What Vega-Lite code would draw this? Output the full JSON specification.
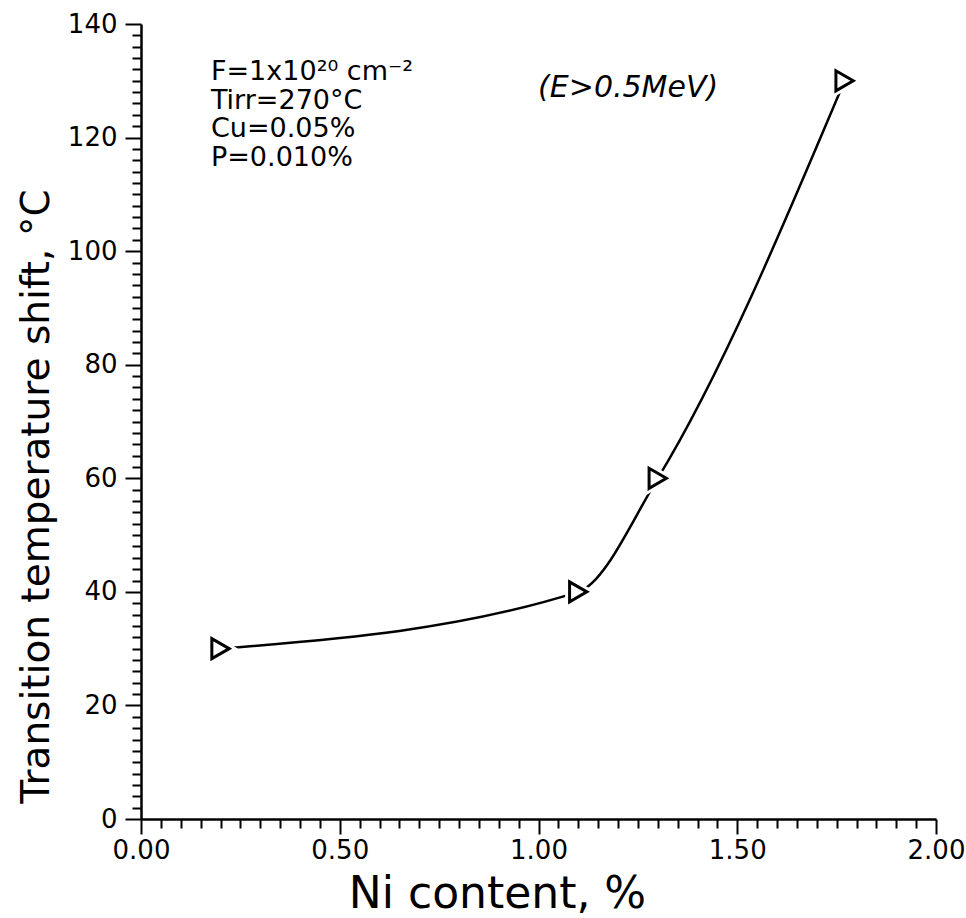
{
  "$schema": "https://vega.github.io/schema/vega-lite/v6.json",
  "width": 795,
  "height": 795,
  "autosize": {"type": "none"},
  "padding": {"left": 141, "top": 24, "right": 30, "bottom": 99},
  "background": "white",
  "config": {
    "font": "DejaVu Sans",
    "view": {"stroke": null},
    "axis": {"grid": false, "domainColor": "black", "tickColor": "black", "labelColor": "black", "titleColor": "black"},
    "axisX": {"tickCount": 40},
    "axisY": {"tickCount": 70}
  },
  "data": {
    "values": [
      {"ni": 0.2, "shift": 30},
      {"ni": 1.1, "shift": 40},
      {"ni": 1.3, "shift": 60},
      {"ni": 1.77, "shift": 130}
    ]
  },
  "layer": [
    {
      "mark": {"type": "line", "interpolate": "monotone", "color": "black", "strokeWidth": 2.5},
      "encoding": {
        "x": {
          "field": "ni", "type": "quantitative",
          "scale": {"domain": [0, 2], "nice": false, "zero": false},
          "axis": {"orient": "bottom", "tickCount": 40, "format": ".2f", "labelExpr": "abs(datum.value * 2 - round(datum.value * 2)) < 0.001 ? datum.label : ''", "tickSize": {"condition": {"test": "abs(datum.value * 2 - round(datum.value * 2)) < 0.001", "value": 15}, "value": 9}, "tickWidth": 2, "domainWidth": 2.5, "labelFontSize": 26, "labelPadding": 3, "labelFlush": false, "labelOverlap": false, "title": "Ni content, %", "titleFontSize": 44, "titleFontWeight": "normal", "titleX": 356, "titleY": 88, "titleBaseline": "alphabetic", "titleAlign": "center"}
        },
        "y": {
          "field": "shift", "type": "quantitative",
          "scale": {"domain": [0, 140], "nice": false},
          "axis": {"orient": "left", "tickCount": 70, "format": "d", "labelExpr": "datum.value % 20 === 0 ? datum.label : ''", "tickSize": {"condition": {"test": "datum.value % 20 === 0", "value": 16}, "value": 9}, "tickWidth": 2, "domainWidth": 2.5, "labelFontSize": 26, "labelPadding": 8, "labelFlush": false, "labelOverlap": false, "title": "Transition temperature shift, °C", "titleFontSize": 39, "titleFontWeight": "normal", "titleAngle": -90, "titleX": -93, "titleY": 472, "titleBaseline": "alphabetic", "titleAlign": "center"}
        }
      }
    },
    {
      "mark": {"type": "point", "shape": "triangle-right", "size": 400, "filled": true, "fill": "white", "stroke": "white", "strokeWidth": 9, "opacity": 1},
      "encoding": {
        "x": {"field": "ni", "type": "quantitative",
          "axis": {"orient": "bottom", "tickCount": 40, "format": ".2f", "labelExpr": "abs(datum.value * 2 - round(datum.value * 2)) < 0.001 ? datum.label : ''", "tickSize": {"condition": {"test": "abs(datum.value * 2 - round(datum.value * 2)) < 0.001", "value": 15}, "value": 9}, "tickWidth": 2, "domainWidth": 2.5, "labelFontSize": 26, "labelPadding": 3, "labelFlush": false, "labelOverlap": false, "title": "Ni content, %", "titleFontSize": 44, "titleFontWeight": "normal", "titleX": 356, "titleY": 88, "titleBaseline": "alphabetic", "titleAlign": "center"}},
        "y": {"field": "shift", "type": "quantitative",
          "axis": {"orient": "left", "tickCount": 70, "format": "d", "labelExpr": "datum.value % 20 === 0 ? datum.label : ''", "tickSize": {"condition": {"test": "datum.value % 20 === 0", "value": 16}, "value": 9}, "tickWidth": 2, "domainWidth": 2.5, "labelFontSize": 26, "labelPadding": 8, "labelFlush": false, "labelOverlap": false, "title": "Transition temperature shift, °C", "titleFontSize": 39, "titleFontWeight": "normal", "titleAngle": -90, "titleX": -93, "titleY": 472, "titleBaseline": "alphabetic", "titleAlign": "center"}}
      }
    },
    {
      "mark": {"type": "point", "shape": "triangle-right", "size": 400, "filled": true, "fill": "white", "stroke": "black", "strokeWidth": 3, "opacity": 1},
      "encoding": {
        "x": {"field": "ni", "type": "quantitative",
          "axis": {"orient": "bottom", "tickCount": 40, "format": ".2f", "labelExpr": "abs(datum.value * 2 - round(datum.value * 2)) < 0.001 ? datum.label : ''", "tickSize": {"condition": {"test": "abs(datum.value * 2 - round(datum.value * 2)) < 0.001", "value": 15}, "value": 9}, "tickWidth": 2, "domainWidth": 2.5, "labelFontSize": 26, "labelPadding": 3, "labelFlush": false, "labelOverlap": false, "title": "Ni content, %", "titleFontSize": 44, "titleFontWeight": "normal", "titleX": 356, "titleY": 88, "titleBaseline": "alphabetic", "titleAlign": "center"}},
        "y": {"field": "shift", "type": "quantitative",
          "axis": {"orient": "left", "tickCount": 70, "format": "d", "labelExpr": "datum.value % 20 === 0 ? datum.label : ''", "tickSize": {"condition": {"test": "datum.value % 20 === 0", "value": 16}, "value": 9}, "tickWidth": 2, "domainWidth": 2.5, "labelFontSize": 26, "labelPadding": 8, "labelFlush": false, "labelOverlap": false, "title": "Transition temperature shift, °C", "titleFontSize": 39, "titleFontWeight": "normal", "titleAngle": -90, "titleX": -93, "titleY": 472, "titleBaseline": "alphabetic", "titleAlign": "center"}}
      }
    },
    {
      "data": {"values": [{"note": ["F=1x10²⁰ cm⁻²", "Tirr=270°C", "Cu=0.05%", "P=0.010%"]}]},
      "mark": {"type": "text", "align": "left", "baseline": "alphabetic", "fontSize": 27, "lineHeight": 28.5, "color": "black"},
      "encoding": {
        "x": {"datum": 0.176, "type": "quantitative",
          "axis": {"orient": "bottom", "tickCount": 40, "format": ".2f", "labelExpr": "abs(datum.value * 2 - round(datum.value * 2)) < 0.001 ? datum.label : ''", "tickSize": {"condition": {"test": "abs(datum.value * 2 - round(datum.value * 2)) < 0.001", "value": 15}, "value": 9}, "tickWidth": 2, "domainWidth": 2.5, "labelFontSize": 26, "labelPadding": 3, "labelFlush": false, "labelOverlap": false, "title": "Ni content, %", "titleFontSize": 44, "titleFontWeight": "normal", "titleX": 356, "titleY": 88, "titleBaseline": "alphabetic", "titleAlign": "center"}},
        "y": {"datum": 130.1, "type": "quantitative",
          "axis": {"orient": "left", "tickCount": 70, "format": "d", "labelExpr": "datum.value % 20 === 0 ? datum.label : ''", "tickSize": {"condition": {"test": "datum.value % 20 === 0", "value": 16}, "value": 9}, "tickWidth": 2, "domainWidth": 2.5, "labelFontSize": 26, "labelPadding": 8, "labelFlush": false, "labelOverlap": false, "title": "Transition temperature shift, °C", "titleFontSize": 39, "titleFontWeight": "normal", "titleAngle": -90, "titleX": -93, "titleY": 472, "titleBaseline": "alphabetic", "titleAlign": "center"}},
        "text": {"field": "note"}
      }
    },
    {
      "data": {"values": [{"note": "(E>0.5MeV)"}]},
      "mark": {"type": "text", "align": "left", "baseline": "alphabetic", "fontSize": 30, "fontStyle": "italic", "color": "black"},
      "encoding": {
        "x": {"datum": 0.999, "type": "quantitative",
          "axis": {"orient": "bottom", "tickCount": 40, "format": ".2f", "labelExpr": "abs(datum.value * 2 - round(datum.value * 2)) < 0.001 ? datum.label : ''", "tickSize": {"condition": {"test": "abs(datum.value * 2 - round(datum.value * 2)) < 0.001", "value": 15}, "value": 9}, "tickWidth": 2, "domainWidth": 2.5, "labelFontSize": 26, "labelPadding": 3, "labelFlush": false, "labelOverlap": false, "title": "Ni content, %", "titleFontSize": 44, "titleFontWeight": "normal", "titleX": 356, "titleY": 88, "titleBaseline": "alphabetic", "titleAlign": "center"}},
        "y": {"datum": 127.1, "type": "quantitative",
          "axis": {"orient": "left", "tickCount": 70, "format": "d", "labelExpr": "datum.value % 20 === 0 ? datum.label : ''", "tickSize": {"condition": {"test": "datum.value % 20 === 0", "value": 16}, "value": 9}, "tickWidth": 2, "domainWidth": 2.5, "labelFontSize": 26, "labelPadding": 8, "labelFlush": false, "labelOverlap": false, "title": "Transition temperature shift, °C", "titleFontSize": 39, "titleFontWeight": "normal", "titleAngle": -90, "titleX": -93, "titleY": 472, "titleBaseline": "alphabetic", "titleAlign": "center"}},
        "text": {"field": "note"}
      }
    }
  ]
}
